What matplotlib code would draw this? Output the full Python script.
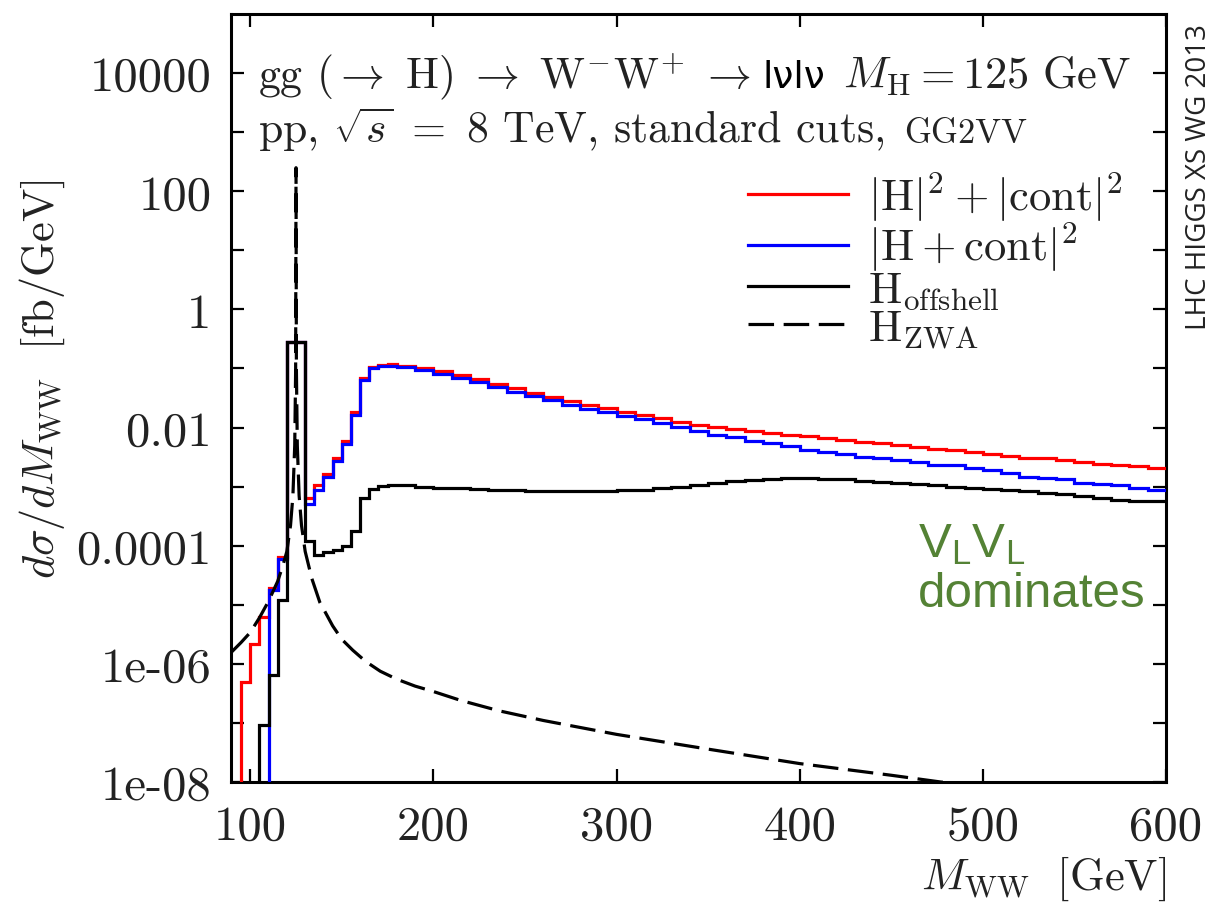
import numpy as np
import matplotlib
matplotlib.use("Agg")
import matplotlib.pyplot as plt
from matplotlib.ticker import FixedLocator, FixedFormatter

plt.rcParams['mathtext.fontset'] = 'cm'
plt.rcParams['mathtext.rm'] = 'Liberation Sans'
plt.rcParams['mathtext.it'] = 'Liberation Sans:italic'
plt.rcParams['mathtext.bf'] = 'Liberation Sans:bold'
plt.rcParams['mathtext.sf'] = 'Liberation Sans'
plt.rcParams['font.family'] = ['cmr10', 'DejaVu Serif']
plt.rcParams['axes.unicode_minus'] = False
plt.rcParams['axes.formatter.use_mathtext'] = True

# ---------------- data ----------------
# histogram bin edges [GeV]: 5 GeV bins, one 10 GeV bin at the peak, 10 GeV bins above 180
bin_edges = np.concatenate([np.arange(90, 121, 5), np.arange(130, 181, 5), np.arange(190, 601, 10)])

red_low = [1e-12, 4.9e-7, 2.2e-6, 6.3e-6, 1.9e-5, 6.5e-5]
blue_low = [1e-12, 1e-12, 1e-12, 1e-12, 1.8e-5, 6.0e-5]
black_low = [1e-12, 1e-12, 1e-12, 9.3e-8, 6.5e-7, 1.2e-5]

peak_red = [0.28]
peak_blue = [0.28]
peak_black = [0.28]

red_mid = [6.5e-4, 1.05e-3, 1.65e-3, 3.05e-3, 6.0e-3, 0.018, 0.070, 0.107, 0.115, 0.118]
blue_mid = [5.1e-4, 8.7e-4, 1.45e-3, 2.7e-3, 5.3e-3, 0.016, 0.065, 0.100, 0.110, 0.112]
black_mid = [1.2e-4, 7.0e-5, 7.8e-5, 8.6e-5, 1.0e-4, 1.8e-4, 6.3e-4, 9.2e-4, 1.04e-3, 1.08e-3]

red_high = [0.112, 0.102, 0.089, 0.078, 0.066, 0.054, 0.046, 0.039, 0.033, 0.028,
            0.0245, 0.0214, 0.0186, 0.0166, 0.0145, 0.0126, 0.0112, 0.0102, 0.0093, 0.0087,
            0.0081, 0.0076, 0.0071, 0.0066, 0.0062, 0.0058, 0.0054, 0.0050, 0.0047, 0.0044,
            0.0041, 0.0038, 0.0035, 0.0033, 0.0031, 0.0030, 0.0028, 0.0026, 0.0024, 0.0023,
            0.0022, 0.0021]
blue_high = [0.105, 0.093, 0.081, 0.069, 0.058, 0.048, 0.040, 0.034, 0.029, 0.0245,
             0.021, 0.018, 0.0158, 0.0138, 0.012, 0.0102, 0.0089, 0.0076, 0.0068, 0.0060,
             0.0054, 0.0048, 0.0042, 0.0038, 0.0035, 0.0032, 0.0030, 0.0028, 0.0026, 0.0023,
             0.0023, 0.0021, 0.0019, 0.0017, 0.00145, 0.00138, 0.00132, 0.00117, 0.00112, 0.00107,
             0.00095, 0.00089]
black_high = [1.07e-3, 1.0e-3, 9.5e-4, 9.3e-4, 9.1e-4, 8.9e-4, 8.7e-4, 8.5e-4, 8.3e-4, 8.3e-4,
              8.3e-4, 8.5e-4, 8.7e-4, 8.9e-4, 9.3e-4, 1.0e-3, 1.07e-3, 1.15e-3, 1.23e-3, 1.29e-3,
              1.35e-3, 1.38e-3, 1.38e-3, 1.35e-3, 1.32e-3, 1.26e-3, 1.20e-3, 1.15e-3, 1.10e-3, 1.05e-3,
              1.0e-3, 9.5e-4, 9.1e-4, 8.7e-4, 8.3e-4, 7.9e-4, 7.4e-4, 6.9e-4, 6.5e-4, 6.0e-4,
              5.8e-4, 5.6e-4]

zwa_mass = [89.5, 95, 100, 105, 110, 115, 118, 120, 122, 123.3, 124.3, 124.8, 125.0,
            125.2, 125.7, 126.7, 128, 130, 133.6, 138, 140, 145, 150, 156, 163, 171, 180,
            190, 200, 215, 236, 260, 300, 350, 400, 450, 477, 500, 600]
zwa_xsec = [1.55e-6, 2.3e-6, 3.4e-6, 6.0e-6, 1.15e-5, 2.5e-5, 4.8e-5, 8.0e-5, 2.2e-4, 7e-4,
            5e-3, 0.1, 250, 0.1, 5e-3, 7e-4, 2.2e-4, 8.0e-5, 2.8e-5, 1.1e-5, 8.5e-6, 4.4e-6,
            2.6e-6, 1.7e-6, 1.1e-6, 7.5e-7, 5.5e-7, 4.2e-7, 3.4e-7, 2.4e-7, 1.6e-7, 1.1e-7,
            6.4e-8, 3.6e-8, 2.05e-8, 1.3e-8, 1.0e-8, 8.5e-9, 5e-9]

x_ticks = [100, 200, 300, 400, 500, 600]
x_ticklabels = ['100', '200', '300', '400', '500', '600']
y_ticks = [1e-8, 1e-7, 1e-6, 1e-5, 1e-4, 1e-3, 1e-2, 1e-1, 1, 10, 100, 1000, 10000]
y_ticklabels = ['1e-08', '', '1e-06', '', '0.0001', '', '0.01', '', '1', '', '100', '', '10000']

labels = [r'$|\mathrm{H}|^2+|\mathrm{cont}|^2$', r'$|\mathrm{H}+\mathrm{cont}|^2$',
          r'$\mathrm{H}_{\mathrm{offshell}}$', r'$\mathrm{H}_{\mathrm{ZWA}}$']

red_vals = red_low + peak_red + red_mid + red_high
blue_vals = blue_low + peak_blue + blue_mid + blue_high
black_vals = black_low + peak_black + black_mid + black_high

# ---------------- figure ----------------
W, H = 1212, 920
fig = plt.figure(figsize=(W / 100, H / 100), dpi=100)
ax = fig.add_axes([231 / W, 1 - 783 / H, (1166 - 231) / W, (783 - 15) / H])

tc = '#222222'
lw = 2.3
ax.stairs(red_vals, bin_edges, baseline=None, color='#ff0000', lw=lw, label=labels[0], zorder=3)
ax.stairs(blue_vals, bin_edges, baseline=None, color='#0000ff', lw=lw, label=labels[1], zorder=4)
ax.stairs(black_vals, bin_edges, baseline=None, color='black', lw=lw, label=labels[2], zorder=5)
ax.plot(zwa_mass, zwa_xsec, color='black', lw=lw, dashes=(8, 3), label=labels[3], zorder=6)

ax.set_yscale('log')
ax.set_xlim(89.5, 600)
ax.set_ylim(1e-8, 1e5)

ax.xaxis.set_major_locator(FixedLocator(x_ticks))
ax.xaxis.set_major_formatter(FixedFormatter(x_ticklabels))
ax.xaxis.set_minor_locator(FixedLocator([]))
ax.yaxis.set_major_locator(FixedLocator(y_ticks))
ax.yaxis.set_major_formatter(FixedFormatter(y_ticklabels))
ax.yaxis.set_minor_locator(FixedLocator([]))

ax.tick_params(which='both', direction='in', top=True, right=True, length=9.5, width=1.6,
               labelsize=35, colors='black', labelcolor=tc)
ax.tick_params(axis='x', pad=16)
ax.tick_params(axis='y', pad=14)
for s in ax.spines.values():
    s.set_linewidth(2.2)

ax.set_xlabel(r'$M_{\mathrm{WW}}\ \ [\mathrm{GeV}]$', fontsize=32, color=tc, loc='right', labelpad=4)
ax.set_ylabel(r'$d\sigma/dM_{\mathrm{WW}}\ \ [\mathrm{fb/GeV}]$', fontsize=32, color=tc)
ax.yaxis.set_label_coords(-0.175, 0.525)

def fx(px):
    return px / W

def fy(py):
    return 1 - py / H

renderer = fig.canvas.get_renderer()

def after(prev, gap_px, s, **kw):
    bb = prev.get_window_extent(renderer)
    return fig.text((bb.x1 + gap_px) / W, prev.get_position()[1], s, va='baseline', **kw)

fs = 31
t1 = fig.text(fx(258), fy(88),
              r'gg $(\rightarrow\ \mathrm{H})\ \rightarrow\ \mathrm{W}^{-}\mathrm{W}^{+}\ \rightarrow$',
              fontsize=31.5, color=tc, va='baseline')
t2 = after(t1, 12, 'lνlν', fontsize=27, family='DejaVu Sans', color='black')
t3 = after(t2, 18, r'$M_{\mathrm{H}} = 125\ \mathrm{GeV}$', fontsize=32, color=tc)
t4 = fig.text(fx(258), fy(143), r'pp, $\sqrt{s}\ =\ 8$ TeV, standard cuts,', fontsize=31.5, color=tc,
              va='baseline')
t5 = after(t4, 20, 'GG2VV', fontsize=fs * 0.8, color=tc)

fig.text(fx(918), fy(557), r'V$_{\mathrm{L}}$V$_{\mathrm{L}}$', fontsize=35.5, family='Liberation Sans',
         math_fontfamily='custom', color='#548235', va='baseline')
fig.text(fx(918), fy(607), 'dominates', fontsize=35.5, family='Liberation Sans', color='#548235',
         va='baseline')

fig.text(fx(1199), fy(177), 'LHC HIGGS XS WG 2013', fontsize=20, family='Open Sans', color=tc,
         rotation=90, ha='center', va='center')

leg = ax.legend(loc='upper left', bbox_to_anchor=(fx(748), fy(170)), bbox_transform=fig.transFigure,
                frameon=False, fontsize=32, handlelength=2.25, handletextpad=0.45, labelspacing=-0.07,
                borderpad=0, borderaxespad=0)
for t in leg.get_texts():
    t.set_color(tc)

fig.savefig('out.png', dpi=100)
